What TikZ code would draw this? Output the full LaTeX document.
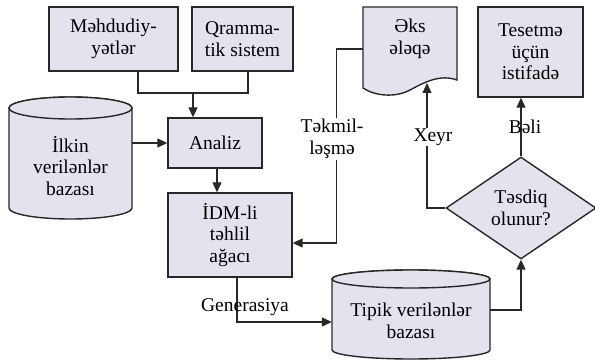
\documentclass[tikz,border=0pt]{standalone}
\usepackage{fontspec}
\setmainfont{Liberation Serif}
\usepackage{tikz}
\usetikzlibrary{shapes.geometric,arrows.meta,positioning,calc}
\definecolor{lavfill}{RGB}{229,225,237}
\definecolor{edgegrey}{RGB}{40,40,40}

\begin{document}
\begin{tikzpicture}[x=1pt, y=-1pt,
    flowbox/.style={rectangle, draw=edgegrey, fill=lavfill, line width=1.4pt,
        align=center, font=\fontsize{19.5}{21.5}\selectfont, inner sep=2pt},
    shapetxt/.style={rectangle, align=center, font=\fontsize{19.5}{21.5}\selectfont, inner sep=2pt},
    shapeline/.style={draw=edgegrey, fill=lavfill, line width=1.4pt},
    decide/.style={diamond, draw=edgegrey, fill=lavfill, line width=1.4pt, aspect=1.47,
        align=center, font=\fontsize{19.5}{21.5}\selectfont, inner sep=0pt},
    edgelbl/.style={align=center, font=\fontsize{19.5}{22}\selectfont, inner sep=1pt},
    link/.style={line width=1.2pt, draw=edgegrey},
    >={Triangle[length=10pt,width=9pt]}
]
\useasboundingbox (0,0) rectangle (595,361);

% shapes drawn by hand: cylinders and document
\path[shapeline] (9,108) -- (9,208) arc[start angle=180, end angle=360, x radius=61.5pt, y radius=11pt]
    -- (132,108) arc[start angle=0, end angle=180, x radius=61.5pt, y radius=11pt] -- cycle;
\draw[shapeline] (70.5,108) ellipse[x radius=61.5pt, y radius=11pt];
\path[shapeline] (332,279) -- (332,350) arc[start angle=180, end angle=360, x radius=79pt, y radius=9pt]
    -- (490,279) arc[start angle=0, end angle=180, x radius=79pt, y radius=9pt] -- cycle;
\draw[shapeline] (411,279) ellipse[x radius=79pt, y radius=9pt];
\path[shapeline] (363,7) -- (457,7) -- (457,80) .. controls (440,74) and (425,82) .. (410,90)
    .. controls (395,98) and (375,96) .. (363,88) -- cycle;

% nodes
\node[flowbox, minimum width=129pt, minimum height=64pt] (mehd) at (113.5,39) {Məhdudiy-\\yətlər};
\node[flowbox, minimum width=101pt, minimum height=64pt] (qramm) at (242.5,39) {Qramma-\\tik sistem};
\node[flowbox, minimum width=94pt, minimum height=50pt] (analiz) at (215,143) {Analiz};
\node[flowbox, minimum width=124pt, minimum height=84pt] (idm) at (230,235) {İDM-li\\təhlil\\ağacı};
\node[flowbox, minimum width=105pt, minimum height=90pt] (tesetme) at (530.5,52) {Tesetmə\\üçün\\istifadə};
\node[shapetxt, minimum width=123pt] (ilkin) at (70.5,166) {İlkin\\verilənlər\\bazası};
\node[shapetxt, minimum width=158pt] (tipik) at (411,321) {Tipik verilənlər\\bazası};
\node[shapetxt, minimum width=94pt] (eks) at (410,39) {Əks\\ələqə};
\node[decide, minimum width=150pt, minimum height=102pt] (tesdiq) at (521,208) {Təsdiq\\olunur?};

\coordinate (join) at (193,93);
\coordinate (wave) at (427,83);

% connectors
\draw[link] ([xshift=24.5pt]mehd.south) |- (join) -| ([xshift=5.5pt]qramm.south);
\draw[link, ->] (join) -- (join |- analiz.north);
\draw[link, ->] (ilkin.east |- analiz.west) -- (analiz.west);
\draw[link, ->] ([xshift=2pt]analiz.south) -- ([xshift=2pt]analiz.south |- idm.north);
\draw[link, ->] ([xshift=7pt]idm.south) |- ([yshift=-1pt]tipik.west);
\draw[link, ->] ([yshift=11pt]tipik.east) -| (tesdiq.south);
\draw[link, ->] (tesdiq.north) -- (tesdiq.north |- tesetme.south);
\draw[link, ->] (tesdiq.west) -| (wave);
\draw[link, ->] ([yshift=-10pt]eks.west) -- ++(-26,0) |- ([yshift=-8pt]idm.east);

% labels
\node[edgelbl] (genlbl) at (245,307) {Generasiya};
\node[edgelbl] (belilbl) at (525,127) {Bəli};
\node[edgelbl, fill=white] (xeyrlbl) at (433,137) {Xeyr};
\node[edgelbl, fill=white] (tekmlbl) at (332,139) {Təkmil-\\ləşmə};
\end{tikzpicture}
\end{document}
